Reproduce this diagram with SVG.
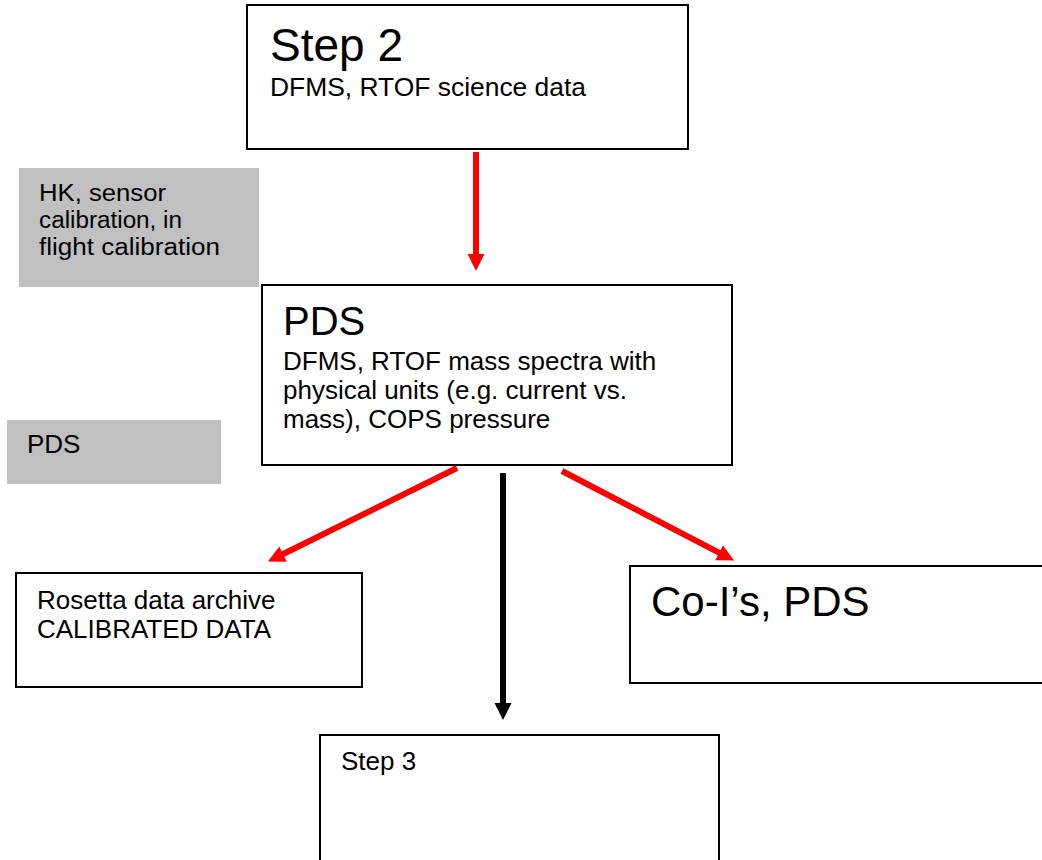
<svg xmlns="http://www.w3.org/2000/svg" width="1042" height="860" viewBox="0 0 1042 860">
<style>
.box{fill:#ffffff;stroke:#000000;stroke-width:2}
.gray{fill:#c0c0c0;stroke:none}
text{font-family:"Liberation Sans",Arial,sans-serif;fill:#000000}
.t{font-size:26px}
.h{font-size:23.5px}
.red{stroke:#ff0000;stroke-width:6;fill:none}
.blk{stroke:#000000;stroke-width:6;fill:none}
</style>
<defs>
<marker id="ahr" markerUnits="userSpaceOnUse" markerWidth="18" markerHeight="18" refX="1" refY="8.5" orient="auto" viewBox="0 0 18 17">
<path d="M0,0 L17,8.5 L0,17 z" fill="#ff0000"/>
</marker>
<marker id="ahk" markerUnits="userSpaceOnUse" markerWidth="18" markerHeight="18" refX="1" refY="8.5" orient="auto" viewBox="0 0 18 17">
<path d="M0,0 L17,8.5 L0,17 z" fill="#000000"/>
</marker>
</defs>
<rect width="1042" height="860" fill="#ffffff"/>
<g id="step2">
<rect class="box" x="247" y="5" width="441" height="144"/>
<text x="270" y="61" font-size="46">Step 2</text>
<text class="t" x="270" y="96" textLength="316" lengthAdjust="spacingAndGlyphs">DFMS, RTOF science data</text>
</g>
<g id="hk">
<rect class="gray" x="19" y="168" width="240" height="119"/>
<text class="h" x="39" y="201" textLength="127" lengthAdjust="spacingAndGlyphs">HK, sensor</text>
<text class="h" x="39" y="228" textLength="143" lengthAdjust="spacingAndGlyphs">calibration, in</text>
<text class="h" x="39" y="255" textLength="181" lengthAdjust="spacingAndGlyphs">flight calibration</text>
</g>
<g id="pds">
<rect class="box" x="262" y="285" width="470" height="180"/>
<text x="283" y="335" font-size="40">PDS</text>
<text class="t" x="283" y="370">DFMS, RTOF mass spectra with</text>
<text class="t" x="283" y="399">physical units (e.g. current vs.</text>
<text class="t" x="283" y="428">mass), COPS pressure</text>
</g>
<g id="pdslabel">
<rect class="gray" x="7" y="420" width="214" height="64"/>
<text class="t" x="27" y="453">PDS</text>
</g>
<g id="rosetta">
<rect class="box" x="16" y="573" width="346" height="114"/>
<text class="t" x="37" y="609">Rosetta data archive</text>
<text class="t" x="37" y="638">CALIBRATED DATA</text>
</g>
<g id="coi">
<rect class="box" x="630" y="566" width="430" height="117"/>
<text x="651" y="616" font-size="42">Co-I’s, PDS</text>
</g>
<g id="step3">
<rect class="box" x="320" y="735" width="399" height="140"/>
<text class="t" x="341" y="770">Step 3</text>
</g>
<g id="connectors">
<line class="red" x1="476" y1="152" x2="476" y2="255" marker-end="url(#ahr)"/>
<line class="red" x1="457" y1="468" x2="282.2" y2="554.5" marker-end="url(#ahr)"/>
<line class="red" x1="562" y1="471" x2="719.9" y2="553.2" marker-end="url(#ahr)"/>
<line class="blk" x1="503" y1="473" x2="503" y2="704" marker-end="url(#ahk)"/>
</g>
</svg>
